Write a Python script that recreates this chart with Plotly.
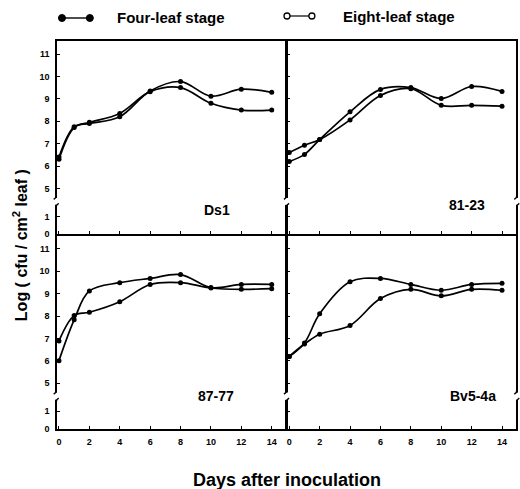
import plotly.graph_objects as go
from plotly.subplots import make_subplots

days = [0, 1, 2, 4, 6, 8, 10, 12, 14]
panel_names = ["Ds1", "81-23", "87-77", "Bv5-4a"]

four_ds1 = [6.40, 7.75, 7.90, 8.20, 9.35, 9.77, 9.12, 9.43, 9.29]
eight_ds1 = [6.30, 7.72, 7.95, 8.35, 9.32, 9.50, 8.80, 8.50, 8.50]

four_8123 = [6.20, 6.52, 7.18, 8.42, 9.42, 9.50, 9.01, 9.55, 9.33]
eight_8123 = [6.60, 6.93, 7.18, 8.06, 9.15, 9.45, 8.71, 8.71, 8.67]

four_8777 = [6.01, 7.83, 9.12, 9.49, 9.68, 9.85, 9.27, 9.41, 9.41]
eight_8777 = [6.89, 8.02, 8.17, 8.64, 9.41, 9.49, 9.25, 9.19, 9.22]

four_bv = [6.19, 6.80, 8.10, 9.53, 9.68, 9.41, 9.15, 9.41, 9.46]
eight_bv = [6.20, 6.75, 7.19, 7.58, 8.78, 9.19, 8.90, 9.19, 9.15]

series = [(four_ds1, eight_ds1), (four_8123, eight_8123),
          (four_8777, eight_8777), (four_bv, eight_bv)]

y_tickvals = [2.98, 3.75, 5, 6, 7, 8, 9, 10, 11]
y_ticktext = ["0", "1", "5", "6", "7", "8", "9", "10", "11"]
x_tickvals = [0, 2, 4, 6, 8, 10, 12, 14]
x_ticktext = ["0", "2", "4", "6", "8", "10", "12", "14"]

label_pos = [(10.4, 4.02), (11.7, 4.25), (10.3, 4.45), (12.1, 4.45)]

FONT = "Liberation Sans"
LW = 1.6
PW, PH = 461.0, 388.0
gx = LW / 2 / PW
gy = LW / 2 / PH

fig = make_subplots(rows=2, cols=2, horizontal_spacing=0, vertical_spacing=0)

for i, (s4, s8) in enumerate(series):
    r, c = i // 2 + 1, i % 2 + 1
    for ys in (s4, s8):
        fig.add_trace(go.Scatter(
            x=days, y=ys, mode="lines+markers",
            line=dict(color="black", width=1.7, shape="spline", smoothing=1.0),
            marker=dict(color="black", size=5),
            showlegend=False, hoverinfo="skip"), row=r, col=c)

for i in range(4):
    r, c = i // 2 + 1, i % 2 + 1
    xdom = [0, 0.5 - gx] if c == 1 else [0.5 + gx, 1]
    ydom = [0.5 + gy, 1] if r == 1 else [0, 0.5 - gy]
    fig.update_xaxes(domain=xdom, range=[-0.13, 14.92], tickvals=x_tickvals,
                     ticktext=x_ticktext,
                     showticklabels=(r == 2), ticks="inside", ticklen=3,
                     tickcolor="black", tickwidth=1.2,
                     showline=True, mirror=True, linecolor="black", linewidth=LW,
                     showgrid=False, zeroline=False,
                     tickfont=dict(family=FONT, size=9, color="black", weight="bold"),
                     ticklabelstandoff=3, row=r, col=c)
    fig.update_yaxes(domain=ydom, range=[2.96, 11.58], tickvals=y_tickvals,
                     ticktext=y_ticktext,
                     showticklabels=(c == 1), ticks="inside", ticklen=3,
                     tickcolor="black", tickwidth=1.2,
                     showline=True, mirror=True, linecolor="black", linewidth=LW,
                     showgrid=False, zeroline=False,
                     tickfont=dict(family=FONT, size=9, color="black", weight="bold"),
                     ticklabelstandoff=4, row=r, col=c)

shapes = []
annotations = []
for i in range(4):
    n = "" if i == 0 else str(i + 1)
    xd = f"x{n} domain"
    yr = f"y{n}"
    for xa, off in ((0, -LW / 2), (1, LW / 2)):
        shapes.append(dict(type="rect", xref=xd, yref=yr, xsizemode="pixel",
                           xanchor=xa, x0=off - 3, x1=off + 3, y0=4.27, y1=4.58,
                           fillcolor="white", line=dict(width=0), layer="above"))
        shapes.append(dict(type="path", xref=xd, yref=yr, xsizemode="pixel",
                           ysizemode="pixel", xanchor=xa, yanchor=4.58,
                           path=f"M {off},2 Q {off},0 {off - 2.5},-1.5",
                           line=dict(color="black", width=1.5), layer="above"))
        shapes.append(dict(type="path", xref=xd, yref=yr, xsizemode="pixel",
                           ysizemode="pixel", xanchor=xa, yanchor=4.27,
                           path=f"M {off},-2 Q {off},0 {off + 2.5},1.5",
                           line=dict(color="black", width=1.5), layer="above"))
    lx, ly = label_pos[i]
    annotations.append(dict(x=lx, y=ly, xref=f"x{n}", yref=yr, text=panel_names[i],
                            showarrow=False,
                            font=dict(family=FONT, size=14, color="black", weight="bold")))


def px(xp):
    return (xp - 57) / PW


def py(yp):
    return (429 - yp) / PH


shapes.append(dict(type="line", xref="paper", yref="paper", x0=px(62), x1=px(90),
                   y0=py(18), y1=py(18), line=dict(color="black", width=1.4)))
for xc in (62, 90):
    shapes.append(dict(type="circle", xref="paper", yref="paper", xsizemode="pixel",
                       ysizemode="pixel", xanchor=px(xc), yanchor=py(18),
                       x0=-3.5, x1=3.5, y0=-3.5, y1=3.5,
                       fillcolor="black", line=dict(color="black", width=1)))
shapes.append(dict(type="line", xref="paper", yref="paper", x0=px(288), x1=px(313),
                   y0=py(16), y1=py(16), line=dict(color="black", width=1.2)))
for xc in (288, 313):
    shapes.append(dict(type="circle", xref="paper", yref="paper", xsizemode="pixel",
                       ysizemode="pixel", xanchor=px(xc), yanchor=py(16),
                       x0=-3, x1=3, y0=-3, y1=3,
                       fillcolor="white", line=dict(color="black", width=1.3)))

annotations.append(dict(x=px(115), y=py(18), xref="paper", yref="paper",
                        xanchor="left", yanchor="middle", text="Four-leaf stage",
                        showarrow=False,
                        font=dict(family=FONT, size=15, color="black", weight="bold")))
annotations.append(dict(x=px(342), y=py(16), xref="paper", yref="paper",
                        xanchor="left", yanchor="middle", text="Eight-leaf stage",
                        showarrow=False,
                        font=dict(family=FONT, size=15, color="black", weight="bold")))
annotations.append(dict(x=px(20), y=py(245), xref="paper", yref="paper",
                        xanchor="center", yanchor="middle", textangle=-90,
                        text="Log ( cfu / cm<sup>2</sup> leaf )", showarrow=False,
                        font=dict(family=FONT, size=16, color="black", weight="bold")))
annotations.append(dict(x=px(288), y=py(480), xref="paper", yref="paper",
                        xanchor="center", yanchor="middle",
                        text="Days after inoculation", showarrow=False,
                        font=dict(family=FONT, size=18, color="black", weight="bold")))

fig.update_layout(width=520, height=489, margin=dict(l=57, r=2, t=41, b=60),
                  paper_bgcolor="white", plot_bgcolor="white",
                  shapes=shapes, annotations=annotations)

fig.write_html("out.html", config={"displayModeBar": False},
               post_script="document.body.style.margin='0';"
                           "document.body.style.padding='0';")
